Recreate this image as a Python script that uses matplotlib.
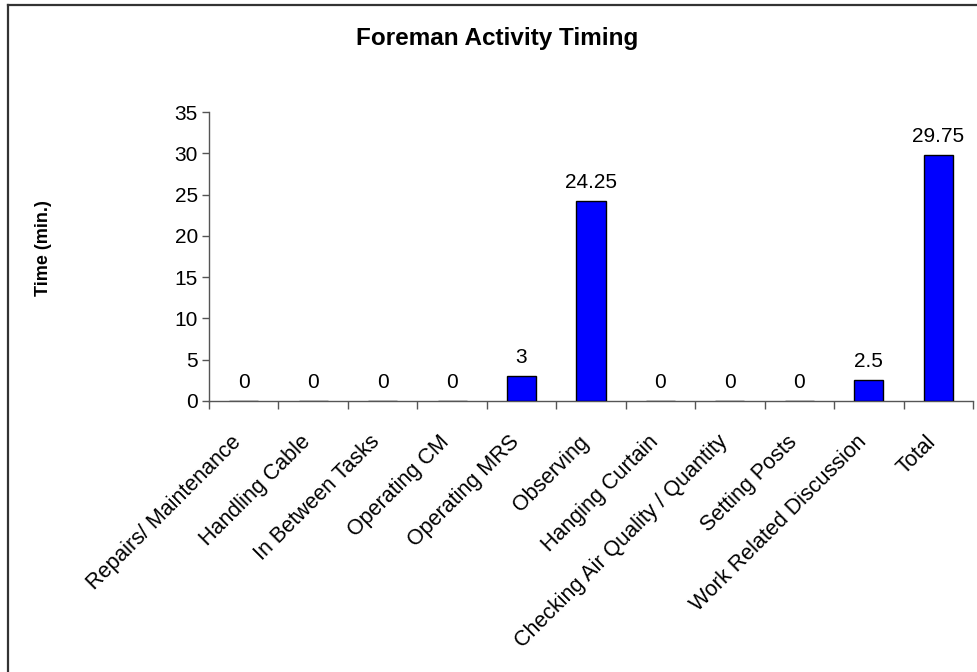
import matplotlib
matplotlib.use("Agg")
import matplotlib.pyplot as plt
from matplotlib.lines import Line2D
from matplotlib.transforms import ScaledTranslation
import numpy as np

plt.rcParams['font.family'] = ['Liberation Sans', 'DejaVu Sans']

categories = ["Repairs/ Maintenance", "Handling Cable", "In Between Tasks", "Operating CM",
              "Operating MRS", "Observing", "Hanging Curtain", "Checking Air Quality / Quantity",
              "Setting Posts", "Work Related Discussion", "Total"]
values = [0, 0, 0, 0, 3, 24.25, 0, 0, 0, 2.5, 29.75]
value_labels = ["0", "0", "0", "0", "3", "24.25", "0", "0", "0", "2.5", "29.75"]
yticks = [0, 5, 10, 15, 20, 25, 30, 35]

W, H = 977, 672
fig = plt.figure(figsize=(W / 100, H / 100), dpi=100)
fig.patch.set_facecolor('white')

# border (cropped at right/bottom)
fig.add_artist(Line2D([7.5 / W, 1.0], [1 - 4.5 / H, 1 - 4.5 / H], color='#333333', lw=1.6,
                      transform=fig.transFigure))
fig.add_artist(Line2D([7.5 / W, 7.5 / W], [0, 1 - 4.5 / H], color='#333333', lw=1.6,
                      transform=fig.transFigure))

ax = fig.add_axes([209 / W, 1 - 401 / H, (973 - 209) / W, (401 - 112) / H])
x = np.arange(len(categories))
ax.bar(x, values, width=0.42, color='#0000FF', edgecolor='black', linewidth=1.0, zorder=3)

ax.set_xlim(-0.5, len(categories) - 0.5)
ax.set_ylim(0, 35)
ax.set_yticks(yticks)
ax.set_yticklabels([str(v) for v in yticks], fontsize=15)
ax.tick_params(axis='y', direction='out', length=5, width=1, color='#555555', pad=3)

# category labels at centers, tick marks at boundaries
ax.set_xticks(x)
ax.set_xticklabels(categories, rotation=45, ha='right', va='top', rotation_mode='anchor', fontsize=15.5)
ax.tick_params(axis='x', which='major', length=0, pad=22)
off = ScaledTranslation(-13 / 100, 0, fig.dpi_scale_trans)
for lab in ax.get_xticklabels():
    lab.set_transform(lab.get_transform() + off)
ax.set_xticks(np.arange(-0.5, len(categories) + 0.5, 1), minor=True)
ax.tick_params(axis='x', which='minor', direction='out', length=6, width=1, color='#555555')

for sp in ['top', 'right']:
    ax.spines[sp].set_visible(False)
for sp in ['left', 'bottom']:
    ax.spines[sp].set_color('#555555')
    ax.spines[sp].set_linewidth(1.0)

for xi, v, lab in zip(x, values, value_labels):
    ax.annotate(lab, (xi, v), xytext=(0, 6.5), textcoords='offset points',
                ha='center', va='bottom', fontsize=15)

fig.text(43.5 / W, 1 - 248 / H, "Time (min.)", ha='center', va='center', rotation=90,
         fontsize=13, fontweight='bold')

fig.text(497 / W, 1 - 38 / H, "Foreman Activity Timing", ha='center', va='center',
         fontsize=17.5, fontweight='bold')

fig.savefig("out.png", dpi=100)
